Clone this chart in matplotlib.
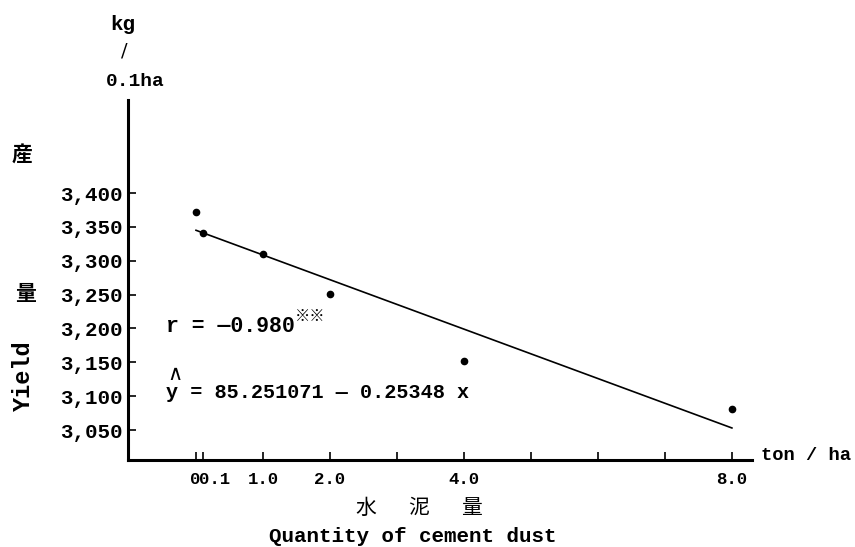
import matplotlib.pyplot as plt
from matplotlib.transforms import ScaledTranslation

# Yield of crop vs. quantity of cement dust
cement_x = [0.0, 0.1, 1.0, 2.0, 4.0, 8.0]
yield_kg = [3372, 3341, 3310, 3251, 3152, 3081]

# regression line endpoints as drawn in the figure
fit_x = [0.0, 8.0]
fit_y = [3345, 3053]

x_ticks = [0, 0.1, 1, 2, 3, 4, 5, 6, 7, 8]
x_tick_labels = ["0", "0.1", "1.0", "2.0", "", "4.0", "", "", "", "8.0"]
y_ticks = [3050, 3100, 3150, 3200, 3250, 3300, 3350, 3400]
y_tick_labels = ["3,050", "3,100", "3,150", "3,200", "3,250", "3,300", "3,350", "3,400"]

W, H = 855, 547
MONO = ["Liberation Mono", "DejaVu Sans Mono"]
CJK = ["Noto Sans CJK JP", "DejaVu Sans"]


def px(x, y):
    """Figure pixel (from top-left) to figure fraction."""
    return x / W, 1 - y / H


fig = plt.figure(figsize=(W / 100, H / 100), dpi=100)
ax = fig.add_axes([128 / W, 1 - 460 / H, (752 - 128) / W, (460 - 100) / H])

ax.plot(cement_x, yield_kg, "o", color="black", markersize=4.5)
ax.plot(fit_x, fit_y, color="black", linewidth=1.2)

ax.set_xlim(-1.015, 8.30)
ax.set_ylim(3005.7, 3537.4)

for side in ("top", "right"):
    ax.spines[side].set_visible(False)
for side in ("left", "bottom"):
    ax.spines[side].set_linewidth(2.2)

ax.set_xticks(x_ticks)
ax.set_xticklabels(x_tick_labels, family=MONO, fontweight="bold", fontsize=12.5)
ax.set_yticks(y_ticks)
ax.set_yticklabels(y_tick_labels, family=MONO, fontweight="bold", fontsize=15)
ax.tick_params(axis="x", direction="in", length=6, width=1.2, pad=9)
ax.tick_params(axis="y", direction="in", length=6, width=1.2, pad=4)

# "0" and "0.1" sit nearly on top of each other: push them together
lab0, lab01 = ax.get_xticklabels()[:2]
lab0.set_ha("right")
lab01.set_ha("left")
lab0.set_transform(lab0.get_transform() + ScaledTranslation(0.04, 0, fig.dpi_scale_trans))
lab01.set_transform(lab01.get_transform() + ScaledTranslation(-0.04, 0, fig.dpi_scale_trans))

# unit label above the y axis
fig.text(*px(123, 24), "kg", ha="center", va="center", family=MONO,
         fontweight="bold", fontsize=15)
fig.text(*px(124, 52), "/", ha="center", va="center", family=["DejaVu Serif"], fontsize=14)
fig.text(*px(135, 82), "0.1ha", ha="center", va="center", family=MONO,
         fontweight="bold", fontsize=14)

# y axis title
fig.text(*px(22, 155), "産", ha="center", va="center", family=CJK,
         fontweight="bold", fontsize=15)
fig.text(*px(25, 293), "量", ha="center", va="center", family=CJK,
         fontweight="bold", fontsize=15)
fig.text(*px(23, 376), "Yield", ha="center", va="center", rotation=90,
         family=MONO, fontweight="bold", fontsize=17)

# x axis title
for ch, cx in zip("水泥量", (366, 419, 471)):
    fig.text(*px(cx, 508), ch, ha="center", va="center", family=CJK, fontsize=15)
fig.text(*px(413, 536), "Quantity of cement dust", ha="center", va="center",
         family=MONO, fontweight="bold", fontsize=15)
fig.text(*px(761, 455), "ton / ha", ha="left", va="center", family=MONO,
         fontweight="bold", fontsize=13.5)

# statistics
r_text = fig.text(*px(166, 332), "r = —0.980", ha="left", va="baseline",
                  family=MONO, fontweight="bold", fontsize=15.5)
ax.annotate("※※", xy=(1, 0.55), xycoords=r_text, ha="left", va="bottom",
            family=CJK, fontsize=11)
fig.text(*px(175, 374), "∧", ha="center", va="center", family=["DejaVu Sans"],
         fontsize=15)
fig.text(*px(166, 398), "y = 85.251071 — 0.25348 x", ha="left", va="baseline",
         family=MONO, fontweight="bold", fontsize=14.5)

fig.savefig("out.png", dpi=100)
